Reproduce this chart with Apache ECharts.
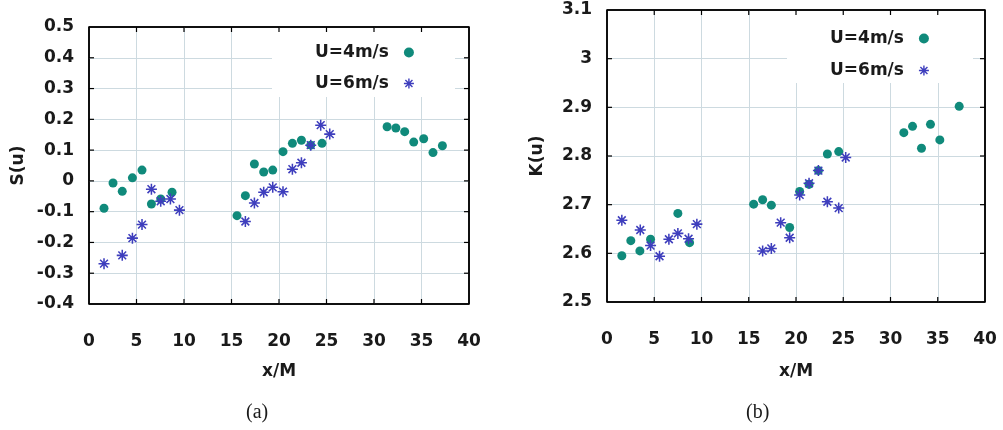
<!DOCTYPE html>
<html>
<head>
<meta charset="utf-8">
<script src="https://cdn.jsdelivr.net/npm/echarts@6/dist/echarts.min.js"></script>
<style>
  html, body { margin: 0; padding: 0; background: #fff; }
  #chart { width: 1003px; height: 430px; }
</style>
</head>
<body>
<div id="chart"></div>
<script>
// Series labels
const seriesNames = ['U=4m/s', 'U=6m/s'];

// Tick values
const xTicks = [0, 5, 10, 15, 20, 25, 30, 35, 40];
const skewTicks = [-0.4, -0.3, -0.2, -0.1, 0, 0.1, 0.2, 0.3, 0.4, 0.5];
const kurtTicks = [2.5, 2.6, 2.7, 2.8, 2.9, 3.0, 3.1];

// (a) skewness S(u) along x/M
const skewX4 = [1.58, 2.53, 3.5, 4.57, 5.58, 6.57, 7.55, 8.74, 15.58, 16.46, 17.41, 18.39, 19.34, 20.42, 21.41, 22.36, 23.34, 24.53, 31.38, 32.3, 33.23, 34.18, 35.23, 36.21, 37.2];
const skewY4 = [-0.089, -0.007, -0.034, 0.010, 0.035, -0.075, -0.059, -0.037, -0.113, -0.048, 0.055, 0.029, 0.035, 0.095, 0.122, 0.132, 0.116, 0.122, 0.176, 0.172, 0.160, 0.126, 0.137, 0.092, 0.114];
const skewX6 = [1.58, 3.5, 4.57, 5.58, 6.57, 7.55, 8.57, 9.52, 16.46, 17.41, 18.39, 19.34, 20.42, 21.41, 22.36, 23.34, 24.39, 25.34];
const skewY6 = [-0.269, -0.242, -0.186, -0.142, -0.027, -0.066, -0.059, -0.095, -0.132, -0.072, -0.037, -0.021, -0.035, 0.038, 0.059, 0.116, 0.181, 0.152];

// (b) kurtosis K(u) along x/M
const kurtX4 = [1.57, 2.52, 3.48, 4.61, 7.5, 8.74, 15.52, 16.47, 17.39, 19.33, 20.39, 21.38, 22.37, 23.32, 24.52, 31.41, 32.33, 33.28, 34.23, 35.22, 37.27];
const kurtY4 = [2.595, 2.626, 2.605, 2.629, 2.682, 2.622, 2.701, 2.710, 2.699, 2.653, 2.727, 2.742, 2.770, 2.804, 2.809, 2.848, 2.861, 2.816, 2.865, 2.833, 2.902];
const kurtX6 = [1.57, 3.52, 4.61, 5.56, 6.55, 7.5, 8.63, 9.51, 16.47, 17.39, 18.38, 19.33, 20.39, 21.38, 22.37, 23.32, 24.52, 25.26];
const kurtY6 = [2.668, 2.648, 2.616, 2.594, 2.629, 2.641, 2.630, 2.660, 2.605, 2.610, 2.663, 2.632, 2.720, 2.744, 2.770, 2.706, 2.693, 2.797];

const zip = (xs, ys) => xs.map((x, i) => [x, ys[i]]);
const first = a => a[0];
const last = a => a[a.length - 1];

const FONT = 'DejaVu Sans';
const INK = '#1a1a1a';
const GREEN = '#108a7b';
const BLUE = '#3e3ebd';
// eight-armed asterisk built from filled bars
const STAR = 'path://M0 8.6H20V11.4H0Z M8.6 0H11.4V20H8.6Z M1.94 3.92L3.92 1.94L18.06 16.08L16.08 18.06Z M16.08 1.94L18.06 3.92L3.92 18.06L1.94 16.08Z';

const GRIDS = [
  { left: 89, top: 27, width: 380, height: 277 },
  { left: 607, top: 10, width: 378, height: 292 }
];

const txt = () => ({ fontFamily: FONT, fontSize: 17, fontWeight: 'bold', color: INK });
// light grid lines, kept off the plot edges
const gridLines = () => ({ show: true, showMinLine: false, showMaxLine: false,
  lineStyle: { color: '#cddae0', width: 1, type: 'solid' } });

function xAxisFor(g, gap) {
  return {
    type: 'value', gridIndex: g, position: 'bottom', min: first(xTicks), max: last(xTicks), interval: xTicks[1] - xTicks[0],
    axisLine: { show: false, onZero: false }, axisTick: { show: false }, splitLine: gridLines(),
    axisLabel: Object.assign({ margin: 29 }, txt()),
    name: 'x/M', nameLocation: 'middle', nameGap: gap, nameTextStyle: txt()
  };
}
function yAxisFor(g, tv, name, gap) {
  return {
    type: 'value', gridIndex: g, position: 'left', min: first(tv), max: last(tv), interval: 0.1,
    axisLine: { show: false, onZero: false }, axisTick: { show: false }, splitLine: gridLines(),
    axisLabel: Object.assign({ margin: 15, padding: [9, 0, 0, 0] }, txt()),
    name: name, nameLocation: 'middle', nameGap: gap, nameRotate: 90, nameTextStyle: txt()
  };
}
function legendAt(left, top, gap) {
  return {
    left: left, top: top, orient: 'vertical', align: 'right', itemGap: gap,
    itemWidth: 10, itemHeight: 10,
    textStyle: Object.assign({ padding: [0, 10, 0, 0] }, txt()),
    data: seriesNames
  };
}
function dots(i, data) {
  return { name: seriesNames[0], type: 'scatter', xAxisIndex: i, yAxisIndex: i, data: data,
    symbol: 'circle', symbolSize: 9, itemStyle: { color: GREEN, opacity: 1 } };
}
function stars(i, data) {
  return { name: seriesNames[1], type: 'scatter', xAxisIndex: i, yAxisIndex: i, data: data,
    symbol: STAR, symbolSize: 11, itemStyle: { color: BLUE, opacity: 1 } };
}

const chart = echarts.init(document.getElementById('chart'));
chart.setOption({
  animation: false,
  grid: GRIDS.map(g => Object.assign({ show: true, borderColor: '#000', borderWidth: 1.5 }, g)),
  xAxis: [xAxisFor(0, 59), xAxisFor(1, 61)],
  yAxis: [yAxisFor(0, skewTicks, 'S(u)', 62), yAxisFor(1, kurtTicks, 'K(u)', 61)],
  legend: [legendAt(310, 39, 14), legendAt(825, 25, 15)],
  series: [
    dots(0, zip(skewX4, skewY4)),
    stars(0, zip(skewX6, skewY6)),
    dots(1, zip(kurtX4, kurtY4)),
    stars(1, zip(kurtX6, kurtY6))
  ]
});

// Plot frame with inward ticks on all four edges, placed through each axis scale
function frameFor(i, tv) {
  const g = GRIDS[i];
  const x0 = g.left, x1 = g.left + g.width, y1 = g.top, y0 = g.top + g.height;
  const seg = (ax, ay, bx, by, w) => ({ type: 'line', z: 10, silent: true,
    shape: { x1: ax, y1: ay, x2: bx, y2: by }, style: { stroke: '#000', lineWidth: w, lineDash: null } });
  const els = [seg(x0, y0, x1, y0, 1.5), seg(x0, y1, x1, y1, 1.5), seg(x0, y0, x0, y1, 1.5), seg(x1, y0, x1, y1, 1.5)];
  xTicks.slice(1, -1).forEach(v => {
    const p = chart.convertToPixel({ xAxisIndex: i }, v);
    if (isFinite(p)) els.push(seg(p, y0, p, y0 - 5, 1.2), seg(p, y1, p, y1 + 5, 1.2));
  });
  tv.slice(1, -1).forEach(v => {
    const p = chart.convertToPixel({ yAxisIndex: i }, v);
    if (isFinite(p)) els.push(seg(x0, p, x0 + 5, p, 1.2), seg(x1, p, x1 - 5, p, 1.2));
  });
  return els;
}

chart.setOption({
  graphic: [
    // key boxes keep the grid clear behind the legend
    { type: 'rect', z: 1, silent: true, shape: { x: 272, y: 29, width: 183, height: 68 }, style: { fill: '#fff' } },
    { type: 'rect', z: 1, silent: true, shape: { x: 787, y: 12, width: 186, height: 71 }, style: { fill: '#fff' } },
    { type: 'text', z: 5, left: 246, top: 403, style: { text: '(a)', font: '20px "Liberation Serif"', fill: INK } },
    { type: 'text', z: 5, left: 746, top: 403, style: { text: '(b)', font: '20px "Liberation Serif"', fill: INK } }
  ].concat(frameFor(0, skewTicks), frameFor(1, kurtTicks))
});
</script>
</body>
</html>
